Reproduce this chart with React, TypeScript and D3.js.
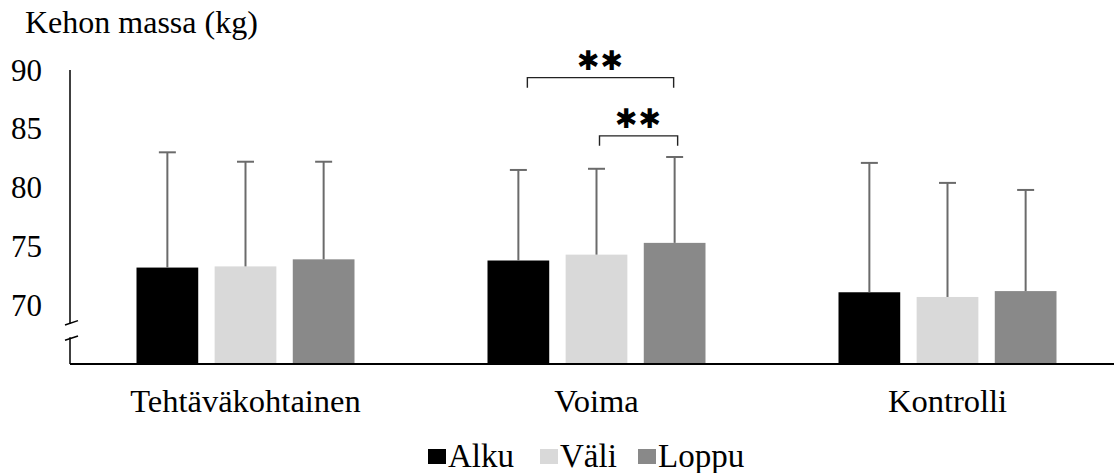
import React from 'react';
import * as d3 from 'd3';

// data
const groups = ['Tehtäväkohtainen', 'Voima', 'Kontrolli'];
const seriesNames = ['Alku', 'Väli', 'Loppu'];
const seriesColors = ['#000000', '#d9d9d9', '#898989'];
const alkuMean = [73.2, 73.8, 71.1];
const valiMean = [73.3, 74.3, 70.7];
const loppuMean = [73.9, 75.3, 71.2];
const alkuSd = [9.8, 7.7, 11.0];
const valiSd = [8.9, 7.3, 9.7];
const loppuSd = [8.3, 7.3, 8.6];
const yTicks = [70, 75, 80, 85, 90];
const yTitle = 'Kehon massa (kg)';
// significance brackets (Voima group)
const brackets = [
  { group: 'Voima', from: 'Alku', to: 'Loppu', y: 89.35, label: '✱✱', dx1: 9, dx2: -1 },
  { group: 'Voima', from: 'Väli', to: 'Loppu', y: 84.4, label: '✱✱', dx1: 3, dx2: 3 },
];

const means = [alkuMean, valiMean, loppuMean];
const sds = [alkuSd, valiSd, loppuSd];

const W = 1114;
const H = 473;
const margin = { left: 70, top: 70, bottom: 364 };
const font = '"Liberation Serif", "Times New Roman", serif';

export default function App() {
  const y = d3.scaleLinear().domain([65, 90]).range([margin.bottom, margin.top]);
  const x0 = d3.scaleBand<string>().domain(groups).range([70, 1123]).padding(0);
  const x1 = d3.scaleBand<string>().domain(seriesNames)
    .range([66.5, x0.bandwidth() - 66.5]).paddingInner(0.21).paddingOuter(0);
  const bw = x1.bandwidth();
  const cx = (g: string, s: string) => (x0(g) ?? 0) + (x1(s) ?? 0) + bw / 2;
  const capHalf = 8.5;
  const breakTop = y(68.5);
  const breakBot = y(67.2);

  return (
    <div style={{ position: 'absolute', left: 0, top: 0 }}>
      <svg width={W} height={H} style={{ display: 'block' }} fontFamily={font}>
        <rect width={W} height={H} fill="#fff" />
        <text x={25} y={33} fontSize={32}>{yTitle}</text>

        {/* y axis with break */}
        <line x1={70} x2={70} y1={y(90)} y2={breakTop + 1} stroke="#000" strokeWidth={1.5} />
        <line x1={70} x2={70} y1={breakBot - 1} y2={y(65)} stroke="#000" strokeWidth={1.5} />
        <line x1={65} x2={78} y1={breakTop + 2.2} y2={breakTop - 2.2} stroke="#000" strokeWidth={1.5} />
        <line x1={65} x2={78} y1={breakBot + 2.2} y2={breakBot - 2.2} stroke="#000" strokeWidth={1.5} />
        {yTicks.map(t => (
          <text key={t} x={42} y={y(t) + 10.5} fontSize={31} textAnchor="end">{t}</text>
        ))}

        {/* bars */}
        {seriesNames.map((s, si) => (
          <g key={s}>
            {groups.map((g, gi) => (
              <rect key={g} x={(x0(g) ?? 0) + (x1(s) ?? 0)} width={bw}
                y={y(means[si][gi])} height={y(65) - y(means[si][gi])}
                fill={seriesColors[si]} />
            ))}
          </g>
        ))}

        {/* error bars */}
        {seriesNames.map((s, si) => (
          <g key={s} stroke="#6b6b6b" strokeWidth={2}>
            {groups.map((g, gi) => {
              const c = cx(g, s);
              const top = y(means[si][gi] + sds[si][gi]);
              return (
                <g key={g}>
                  <line x1={c} x2={c} y1={y(means[si][gi])} y2={top} />
                  <line x1={c - capHalf} x2={c + capHalf} y1={top} y2={top} />
                </g>
              );
            })}
          </g>
        ))}

        {/* baseline */}
        <line x1={70} x2={W} y1={y(65)} y2={y(65)} stroke="#000" strokeWidth={2} />

        {/* category labels */}
        {groups.map(g => (
          <text key={g} x={(x0(g) ?? 0) + x0.bandwidth() / 2} y={412} fontSize={32.5} textAnchor="middle">{g}</text>
        ))}

        {/* significance brackets */}
        {brackets.map((b, i) => {
          const xa = cx(b.group, b.from) + b.dx1;
          const xb = cx(b.group, b.to) + b.dx2;
          const yy = y(b.y);
          return (
            <g key={i}>
              <path d={`M${xa},${yy + 10}V${yy}H${xb}V${yy + 10}`} fill="none" stroke="#222" strokeWidth={1.4} />
              <text x={(xa + xb) / 2} y={yy - 17} fontSize={27} textAnchor="middle"
                dominantBaseline="central" fontFamily='"DejaVu Sans", sans-serif' letterSpacing={1}>{b.label}</text>
            </g>
          );
        })}

        {/* legend */}
        {seriesNames.map((s, si) => {
          const lx = [428, 540, 638][si];
          return (
            <g key={s}>
              <rect x={lx} y={449} width={18} height={15} fill={seriesColors[si]} />
              <text x={lx + 20} y={466.5} fontSize={33}>{s}</text>
            </g>
          );
        })}
      </svg>
    </div>
  );
}
